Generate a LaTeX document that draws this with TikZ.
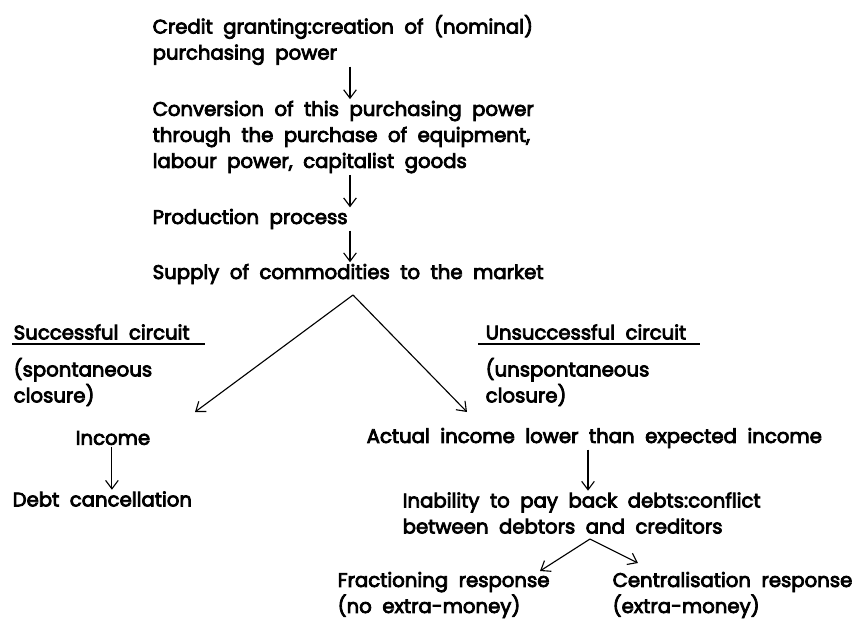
\documentclass[tikz,border=0pt]{standalone}
\usepackage{fontspec}
\setmainfont{Poppins}[WordSpace=2, RawFeature={embolden=4}]
\usetikzlibrary{positioning}
\usetikzlibrary{calc}
\usetikzlibrary{arrows.meta}

\begin{document}
\begin{tikzpicture}[
    x=0.025cm, y=-0.025cm,
    >={Straight Barb[length=6pt,width=9pt]},
    % node styles
    txt/.style = {
      anchor=west,
      align=left,
      inner sep=1pt,
      font=\fontsize{14}{18.5}\selectfont
    },
    % arrow styles
    arr/.style = {->, line width=0.8pt, draw=black},
    rule/.style = {line width=1.6pt, draw=black}
  ]
  \useasboundingbox (0,0) rectangle (857,621);

  % --- Nodes
  \node[txt] (credit) at (151,40) {Credit granting:creation of (nominal)\\purchasing power};
  \node[txt] (conv) at (151,137) {Conversion of this purchasing power\\through the purchase of equipment,\\labour power, capitalist goods};
  \node[txt] (prod) at (151,219) {Production process};
  \node[txt] (supply) at (151,274) {Supply of commodities to the market};

  \node[txt] (succ) at (12,332) {Successful circuit};
  \node[txt] (spont) at (12,382) {(spontaneous\\closure)};
  \node[txt] (unsucc) at (484,332) {Unsuccessful circuit};
  \node[txt] (unspont) at (484,382) {(unspontaneous\\closure)};

  \node[txt] (income) at (74,438) {Income};
  \node[txt] (debt) at (11,499) {Debt cancellation};
  \node[txt] (actual) at (365,438) {Actual income lower than expected income};
  \node[txt] (inab) at (401,513) {Inability to pay back debts:conflict\\between debtors and creditors};
  \node[txt] (frac) at (336,595) {Fractioning response\\(no extra-money)};
  \node[txt] (central) at (611,595) {Centralisation response\\(extra-money)};

  \coordinate (spine) at (350,0);
  \coordinate (fork) at (353,295);
  \coordinate (lefttip) at (195,412);
  \coordinate (righttip) at (467,412);
  \coordinate (subfork) at (590,539);
  \coordinate (fractip) at (540,571);
  \coordinate (centraltip) at (638,563);

  % --- Arrows
  \draw[arr] (credit.south -| spine) -- (conv.north -| spine);
  \draw[arr] (conv.south -| spine) -- (prod.north -| spine);
  \draw[arr] (prod.south -| spine) -- (supply.north -| spine);
  \draw[arr] (fork) -- (lefttip);
  \draw[arr] (fork) -- (righttip);
  \draw[arr] ($(income.south)+(-1,0)$) -- ($(debt.north -| income.south)+(-1,0)$);
  \draw[arr] (actual.south -| 588,0) -- (inab.north -| 588,0);
  \draw[arr] (subfork) -- (fractip);
  \draw[arr] (subfork) -- (centraltip);

  % --- Underlines
  \draw[rule] (succ.south west) ++(0,3) coordinate (sl) -- (sl -| 205,0);
  \draw[rule] (unsucc.south west) ++(-6,3) coordinate (ul) -- (ul -| 700,0);

\end{tikzpicture}
\end{document}
